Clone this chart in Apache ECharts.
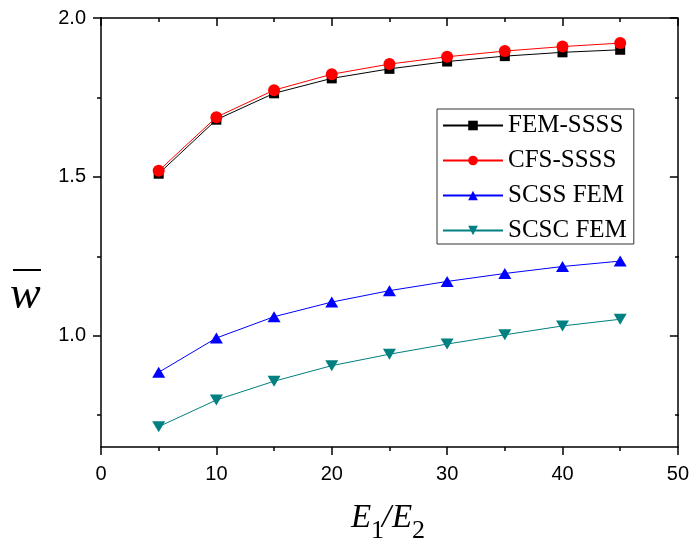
<!DOCTYPE html>
<html>
<head>
<meta charset="utf-8">
<script src="https://cdn.jsdelivr.net/npm/echarts@6/dist/echarts.min.js"></script>
<style>
  html, body { margin: 0; padding: 0; background: #fff; }
  #chart { width: 692px; height: 545px; }
</style>
</head>
<body>
<div id="chart"></div>
<script>
// Modulus ratio E1/E2 along the x axis
const ratios = [5, 10, 15, 20, 25, 30, 35, 40, 45];

// Non-dimensional deflection w̄ for each boundary condition / method
const femSSSS = [1.510, 1.680, 1.763, 1.810, 1.840, 1.863, 1.880, 1.892, 1.900];
const cfsSSSS = [1.519, 1.688, 1.773, 1.823, 1.855, 1.878, 1.896, 1.910, 1.921];
const scssFEM = [0.885, 0.993, 1.060, 1.106, 1.142, 1.171, 1.196, 1.218, 1.235];
const scscFEM = [0.714, 0.798, 0.857, 0.906, 0.942, 0.974, 1.003, 1.031, 1.052];

const seriesNames = ['FEM-SSSS', 'CFS-SSSS', 'SCSS FEM', 'SCSC FEM'];

// Tick positions on the deflection axis
const yMajorTicks = [1.0, 1.5, 2.0];
const yMinorTicks = [0.75, 1.25, 1.75];

const Y_MIN = 0.65, Y_MAX = 2.0;
const X_MIN = 0, X_MAX = 50, X_STEP = 10;

const AXIS_COLOR = '#000';
const AXIS_W = 1.5;
const gridRect = { left: 101, right: 13, top: 18, bottom: 98 };

function pairs(values) {
  return ratios.map((r, i) => [r, values[i]]);
}

const tickFont = { fontFamily: '"Liberation Sans", Arial, sans-serif', fontSize: 20, color: '#000' };

function xAxisDef(position, grid, showAll) {
  const inside = position === 'top';
  return {
    type: 'value', gridIndex: grid, position: position,
    min: X_MIN, max: X_MAX, interval: X_STEP,
    show: showAll,
    axisLine: { show: true, onZero: false, lineStyle: { color: AXIS_COLOR, width: AXIS_W } },
    axisTick: { show: true, inside: inside, length: 8, lineStyle: { color: AXIS_COLOR, width: AXIS_W } },
    minorTick: { show: true, splitNumber: 2, length: 4, lineStyle: { color: AXIS_COLOR, width: AXIS_W } },
    splitLine: { show: false },
    minorSplitLine: { show: false },
    axisLabel: inside ? { show: false } : Object.assign({ margin: 17, formatter: v => String(v) }, tickFont)
  };
}

function yAxisDef(position, grid, ticks, len, withLine, withLabels) {
  const inside = position === 'right';
  return {
    type: 'value', gridIndex: grid, position: position,
    min: Y_MIN, max: Y_MAX,
    axisLine: { show: withLine, onZero: false, lineStyle: { color: AXIS_COLOR, width: AXIS_W } },
    axisTick: { show: true, inside: inside, length: len, customValues: ticks,
                lineStyle: { color: AXIS_COLOR, width: AXIS_W } },
    splitLine: { show: false },
    axisLabel: withLabels
      ? Object.assign({ margin: 15, customValues: yMajorTicks, formatter: v => Number(v).toFixed(1) }, tickFont)
      : { show: false }
  };
}

const option = {
  animation: false,
  backgroundColor: '#fff',
  grid: [
    Object.assign({}, gridRect),
    Object.assign({}, gridRect)
  ],
  xAxis: [
    xAxisDef('bottom', 0, true),
    xAxisDef('top', 0, true),
    Object.assign(xAxisDef('bottom', 1, false), { show: false })
  ],
  yAxis: [
    yAxisDef('left', 0, yMajorTicks, 8, true, true),
    yAxisDef('right', 0, yMajorTicks, 8, true, false),
    yAxisDef('left', 1, yMinorTicks, 4, false, false),
    yAxisDef('right', 1, yMinorTicks, 4, false, false)
  ],
  legend: {
    orient: 'vertical',
    left: 437, top: 109,
    padding: [4, 7, 1, 5],
    itemWidth: 60, itemHeight: 12, itemGap: 10,
    backgroundColor: '#fff',
    borderColor: '#333', borderWidth: 1,
    selectedMode: false,
    textStyle: { fontFamily: '"Liberation Serif", "Times New Roman", serif', fontSize: 25, lineHeight: 24, color: '#000' },
    data: seriesNames
  },
  series: [
    {
      name: seriesNames[0], type: 'line', xAxisIndex: 0, yAxisIndex: 0,
      data: pairs(femSSSS), symbol: 'rect', symbolSize: 10,
      itemStyle: { color: '#000' }, lineStyle: { color: '#000', width: 1 }, z: 2
    },
    {
      name: seriesNames[1], type: 'line', xAxisIndex: 0, yAxisIndex: 0,
      data: pairs(cfsSSSS), symbol: 'circle', symbolSize: 12,
      itemStyle: { color: '#ff0000' }, lineStyle: { color: '#ff0000', width: 1 }, z: 3
    },
    {
      name: seriesNames[2], type: 'line', xAxisIndex: 0, yAxisIndex: 0,
      data: pairs(scssFEM), symbol: 'triangle', symbolSize: [13, 11],
      itemStyle: { color: '#0000ff' }, lineStyle: { color: '#0000ff', width: 1 }, z: 2
    },
    {
      name: seriesNames[3], type: 'line', xAxisIndex: 0, yAxisIndex: 0,
      data: pairs(scscFEM), symbol: 'path://M0,0 L2,0 L1,1.7 Z', symbolSize: [13, 11],
      itemStyle: { color: '#008080' }, lineStyle: { color: '#008080', width: 1 }, z: 2
    }
  ],
  graphic: [
    // y axis title: w with an overbar
    { type: 'text', left: null, style: { text: 'w', x: 10, y: 296,
      font: 'italic 46px "Liberation Serif", "Times New Roman", serif',
      fill: '#000', textAlign: 'left', verticalAlign: 'middle' } },
    { type: 'line', shape: { x1: 13, y1: 270, x2: 41, y2: 270 },
      style: { stroke: '#000', lineWidth: 2 } },
    // x axis title: E1/E2 with subscripts
    { type: 'text', style: { text: 'E', x: 351, y: 518,
      font: 'italic 33px "Liberation Serif", "Times New Roman", serif',
      fill: '#000', textAlign: 'left', verticalAlign: 'middle' } },
    { type: 'text', style: { text: '1', x: 371, y: 531,
      font: '26px "Liberation Serif", "Times New Roman", serif',
      fill: '#000', textAlign: 'left', verticalAlign: 'middle' } },
    { type: 'text', style: { text: '/', x: 382, y: 518,
      font: 'italic 33px "Liberation Serif", "Times New Roman", serif',
      fill: '#000', textAlign: 'left', verticalAlign: 'middle' } },
    { type: 'text', style: { text: 'E', x: 392, y: 518,
      font: 'italic 33px "Liberation Serif", "Times New Roman", serif',
      fill: '#000', textAlign: 'left', verticalAlign: 'middle' } },
    { type: 'text', style: { text: '2', x: 412, y: 531,
      font: '26px "Liberation Serif", "Times New Roman", serif',
      fill: '#000', textAlign: 'left', verticalAlign: 'middle' } }
  ]
};

const chart = echarts.init(document.getElementById('chart'), null, { renderer: 'canvas' });
chart.setOption(option);
</script>
</body>
</html>
